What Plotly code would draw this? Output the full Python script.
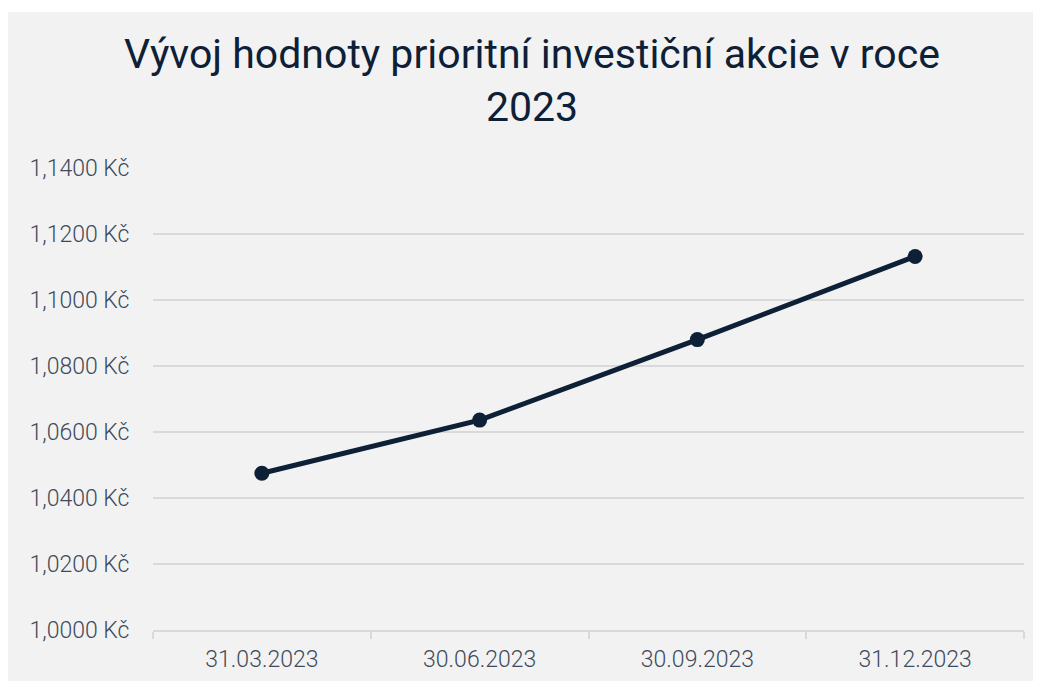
import plotly.graph_objects as go

categories = ["31.03.2023", "30.06.2023", "30.09.2023", "31.12.2023"]
values = [1.0475, 1.0636, 1.0880, 1.1132]
title_text = "Vývoj hodnoty prioritní investiční akcie v roce<br>2023"

# page has an 8px body margin, so the figure is placed at screen (8, 8)
W, H = 1033, 673
L, R, T, B = 145, 17, 160, 51
pw, ph = W - L - R, H - T - B

def px_y(p):
    return (H - B - p) / ph

navy = "#0e2036"
grid = "#d9d9d9"
label_col = "#3d4b5c"

fig = go.Figure()
fig.add_trace(go.Scatter(
    x=categories, y=values, mode="lines+markers",
    line=dict(color=navy, width=5),
    marker=dict(color=navy, size=15),
    hoverinfo="skip", showlegend=False,
))

fig.update_layout(
    width=W, height=H,
    margin=dict(l=L, r=R, t=T, b=B, autoexpand=False),
    paper_bgcolor="#f2f2f2", plot_bgcolor="#f2f2f2",
    separators=", ",
    font=dict(family="Roboto", color=label_col, weight=300),
    title=dict(text=title_text, x=524 / W, xanchor="center", xref="container",
               y=1 - 60 / H, yanchor="top", yref="container",
               font=dict(family="Roboto", size=41, color=navy, weight=400)),
    xaxis=dict(type="category", range=[-0.5, 3.5], tickson="boundaries", ticks="outside", ticklen=7,
               tickcolor=grid, tickwidth=1.5, showline=True, linecolor=grid, linewidth=1.5,
               ticklabelstandoff=8,
               showgrid=False, tickfont=dict(size=23, color=label_col, weight=300), fixedrange=True),
    yaxis=dict(range=[1.0, 1.14], dtick=0.02, tick0=1.0, tickformat=".4f", ticksuffix=" Kč",
               showgrid=True, gridcolor=grid, gridwidth=1.5, zeroline=False, showline=False,
               ticks="outside", ticklen=18, tickcolor="rgba(0,0,0,0)",
               tickfont=dict(size=23, color=label_col, weight=300), fixedrange=True),
    shapes=[
        dict(type="rect", xref="paper", yref="paper", x0=-1, x1=3, y0=px_y(4), y1=3,
             fillcolor="white", line=dict(width=0), layer="above"),
    ],
)

fig.write_html("out.html")
